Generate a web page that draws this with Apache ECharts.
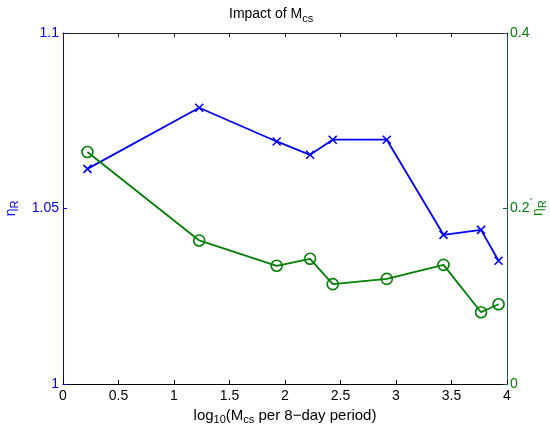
<!DOCTYPE html>
<html>
<head>
<meta charset="utf-8">
<script src="https://cdn.jsdelivr.net/npm/echarts@6/dist/echarts.min.js"></script>
<style>html,body{margin:0;padding:0;background:#fff}#c{width:550px;height:424px}</style>
</head>
<body>
<div id="c"></div>
<script>
var xVals = [0.220, 1.227, 1.925, 2.226, 2.430, 2.917, 3.428, 3.766, 3.924];
var etaR = [1.0613, 1.0787, 1.0691, 1.0653, 1.0696, 1.0696, 1.0425, 1.0439, 1.0351];
var etaRprime = [0.2644, 0.1636, 0.1347, 0.1427, 0.1138, 0.1198, 0.1358, 0.0818, 0.0909];
var xTicks = [0, 0.5, 1, 1.5, 2, 2.5, 3, 3.5, 4];
var leftTicks = [1, 1.05, 1.1];
var rightTicks = [0, 0.2, 0.4];

var BLUE = '#0000ff', GREEN = '#008000', FONT = 'Liberation Sans, Arial, sans-serif';
var TFONT = 'Liberation Sans Narrow, Liberation Sans, Arial, sans-serif';
function pairs(xs, ys) { return xs.map(function (x, i) { return [x, ys[i]]; }); }
function fmt(v) { return String(Math.round(v * 1000) / 1000); }

var chart = echarts.init(document.getElementById('c'), null, {renderer: 'canvas'});
chart.setOption({
  animation: false,
  backgroundColor: '#fff',
  title: {
    text: 'Impact of M{sub|cs}',
    left: 224, top: -1,
    textStyle: {
      fontFamily: TFONT, fontSize: 14, fontWeight: 'normal', color: '#000',
      rich: {sub: {fontFamily: TFONT, fontSize: 11, color: '#000', verticalAlign: 'top', padding: [9, 0, 0, 0]}}
    }
  },
  graphic: [{
    type: 'text', x: 538, y: 207, rotation: Math.PI / 2, z: 10,
    style: {
      text: '\u03b7{sub|R}{pr|\u2019}',
      fill: GREEN, font: '14px ' + FONT, align: 'center', verticalAlign: 'middle',
      rich: {
        sub: {fontFamily: FONT, fontSize: 11, fill: GREEN, verticalAlign: 'top', padding: [9, 0, 0, 0]},
        pr: {fontFamily: FONT, fontSize: 11, fill: GREEN, verticalAlign: 'top', padding: [1, 0, 0, 0]}
      }
    }
  }],
  grid: {left: 63, right: 43, top: 33, bottom: 40, outerBoundsMode: 'none', containLabel: false},
  xAxis: [{
    type: 'value', min: xTicks[0], max: xTicks[xTicks.length - 1], interval: 0.5,
    position: 'bottom',
    axisLine: {show: true, onZero: false, lineStyle: {color: '#000', width: 1}},
    axisTick: {show: true, inside: true, length: 4, lineStyle: {color: '#000'}},
    axisLabel: {color: '#000', fontFamily: FONT, fontSize: 14, margin: 5, formatter: fmt},
    splitLine: {show: false},
    name: 'log{sub|10}(M{sub|cs} per 8\u2212day period)',
    nameLocation: 'middle', nameGap: 15,
    nameTextStyle: {
      color: '#000', fontFamily: FONT, fontSize: 15,
      rich: {sub: {fontFamily: FONT, fontSize: 11, color: '#000', verticalAlign: 'top', padding: [9, 0, 0, 0]}}
    }
  }, {
    type: 'value', min: xTicks[0], max: xTicks[xTicks.length - 1], interval: 0.5,
    position: 'top',
    axisLine: {show: true, onZero: false, lineStyle: {color: '#222', width: 1}},
    axisTick: {show: true, inside: true, length: 4, lineStyle: {color: '#222'}},
    axisLabel: {show: false},
    splitLine: {show: false}
  }],
  yAxis: [{
    type: 'value', min: leftTicks[0], max: leftTicks[leftTicks.length - 1], interval: 0.05,
    position: 'left',
    axisLine: {show: true, onZero: false, lineStyle: {color: BLUE, width: 1}},
    axisTick: {show: true, inside: true, length: 4, lineStyle: {color: BLUE}},
    axisLabel: {color: BLUE, fontFamily: FONT, fontSize: 14, margin: 4, formatter: fmt},
    splitLine: {show: false},
    name: '\u03b7{sub|R}', nameLocation: 'middle', nameGap: 40, nameRotate: 90,
    nameTextStyle: {
      color: BLUE, fontFamily: FONT, fontSize: 14,
      rich: {sub: {fontFamily: FONT, fontSize: 11, color: BLUE, verticalAlign: 'top', padding: [9, 0, 0, 0]}}
    }
  }, {
    type: 'value', min: rightTicks[0], max: rightTicks[rightTicks.length - 1], interval: 0.2,
    position: 'right',
    axisLine: {show: true, onZero: false, lineStyle: {color: '#1e5a5a', width: 1}},
    axisTick: {show: true, inside: true, length: 4, lineStyle: {color: '#1e5a5a'}},
    axisLabel: {color: GREEN, fontFamily: FONT, fontSize: 14, margin: 3, formatter: fmt},
    splitLine: {show: false}
  }],
  series: [{
    type: 'line', xAxisIndex: 0, yAxisIndex: 0,
    data: pairs(xVals, etaR),
    symbol: 'path://M0,0L10,10M10,0L0,10', symbolSize: 8,
    itemStyle: {color: BLUE, borderColor: BLUE, borderWidth: 1.6},
    lineStyle: {color: BLUE, width: 1.8},
    z: 2
  }, {
    type: 'line', xAxisIndex: 0, yAxisIndex: 1,
    data: pairs(xVals, etaRprime),
    symbol: 'circle', symbolSize: 11,
    itemStyle: {color: 'rgba(0,0,0,0)', borderColor: GREEN, borderWidth: 1.6},
    lineStyle: {color: GREEN, width: 1.8},
    z: 3
  }]
});
</script>
</body>
</html>
